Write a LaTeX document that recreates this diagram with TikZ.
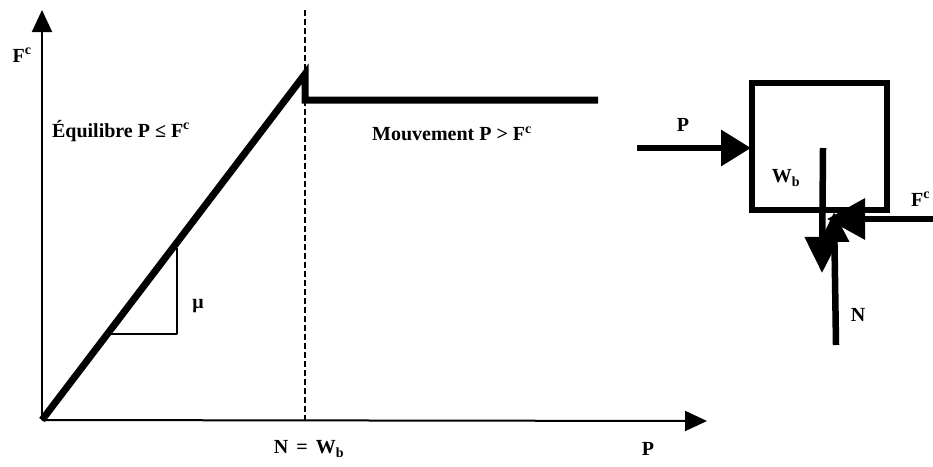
\documentclass[tikz,border=0pt]{standalone}
\usepackage{fontspec}
\setmainfont{Liberation Serif}
\usetikzlibrary{arrows.meta}
\begin{document}
\begin{tikzpicture}[x=1pt,y=-1pt,
  lbl/.style={font=\bfseries\fontsize{20}{22}\selectfont, inner sep=0pt},
  axisline/.style={line width=2pt, -{Triangle[length=22pt,width=20pt]}},
  thinline/.style={line width=1.8pt},
  curveline/.style={line width=7pt, line join=miter},
  dashline/.style={line width=1.5pt, dash pattern=on 6pt off 3pt},
  blockline/.style={line width=5.5pt, line join=miter},
  forceline/.style={line width=6.5pt}]
\useasboundingbox (0,0) rectangle (933,466);
% axes
\coordinate (O) at (42,420);
\coordinate (Ytop) at (42,10);
\coordinate (Xend) at (707,421);
\draw[axisline] (O) -- (Ytop);
\draw[axisline] (O) -- (Xend);
% curve
\coordinate (peak) at (305,74);
\coordinate (drop) at (305,100);
\coordinate (cend) at (598,100);
\draw[curveline] (O) -- (peak) -- (drop) -- (cend);
% dashed vertical
\coordinate (dtop) at (305,10);
\coordinate (dbot) at (305,420);
\draw[dashline] (dtop) -- (dbot);
% slope triangle
\coordinate (t1) at (108,334);
\coordinate (t2) at (177,334);
\coordinate (t3) at (177,248);
\draw[thinline, line join=round] (t1) -- (t2) -- (t3);
% labels
\node[lbl] (fcaxis) at (22,55) {F\textsuperscript{c}};
\node[lbl] (equil) at (121,131) {Équilibre P ≤ F\textsuperscript{c}};
\node[lbl] (mouv) at (452,134) {Mouvement P > F\textsuperscript{c}};
\node[lbl] (mu) at (198,306) {μ};
\node[lbl] (nw) at (309,449) {N\hspace{3pt} = \hspace{3pt}W\textsubscript{b}};
\node[lbl] (paxis) at (648,449) {P};
% free body diagram
\node[draw, blockline, minimum width=135pt, minimum height=127pt, inner sep=0pt] (block) at (819.5,146.5) {};
\coordinate (pstart) at (637,148);
\coordinate (pend) at (751,148);
\draw[forceline, -{Triangle[length=30pt,width=35pt]}] (pstart) -- (pend);
\node[lbl] (plbl) at (683,125) {P};
\coordinate (wstart) at (823,148);
\coordinate (wend) at (822,273);
\draw[forceline, -{Triangle[length=36pt,width=34pt]}] (wstart) -- (wend);
\node[lbl] (wlbl) at (786,178) {W\textsubscript{b}};
\coordinate (nstart) at (836,345);
\coordinate (nend) at (834,212);
\draw[forceline, -{Triangle[length=30pt,width=28pt]}] (nstart) -- (nend);
\node[lbl] (nlbl) at (858,315) {N};
\coordinate (fstart) at (940,219);
\coordinate (fend) at (827,219);
\draw[forceline, -{Triangle[length=38pt,width=40pt]}] (fstart) -- (fend);
\node[lbl, anchor=west] (fclbl) at (911,199) {F\textsuperscript{c}};
\end{tikzpicture}
\end{document}
